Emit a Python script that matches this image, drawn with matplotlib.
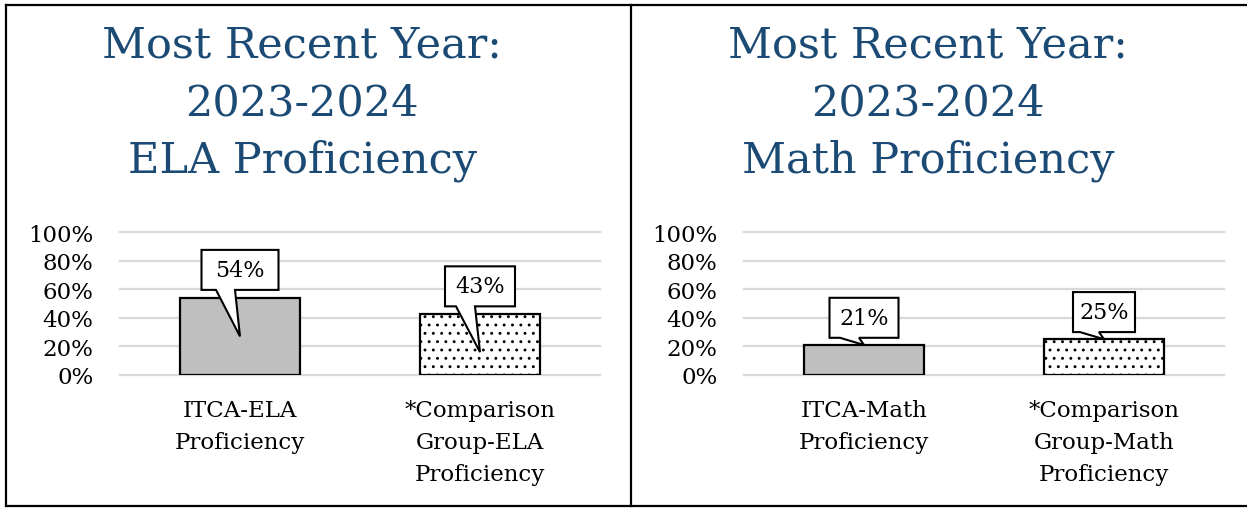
import matplotlib
matplotlib.use("Agg")
import matplotlib.pyplot as plt
from matplotlib.patches import Polygon
from matplotlib.lines import Line2D
from matplotlib.transforms import IdentityTransform

W, H = 1247, 510
DPI = 100

title_lines = ["Most Recent Year:", "2023-2024"]
subjects = ["ELA Proficiency", "Math Proficiency"]

ela_labels = ["ITCA-ELA\nProficiency", "*Comparison\nGroup-ELA\nProficiency"]
ela_values = [54, 43]
math_labels = ["ITCA-Math\nProficiency", "*Comparison\nGroup-Math\nProficiency"]
math_values = [21, 25]
y_ticks = [0, 20, 40, 60, 80, 100]

# callouts: where the box sits and where its pointer ends (in %)
ela_box_at = [73.5, 62]
ela_tip_at = [27, 16]
math_box_at = [40, 44]
math_tip_at = [21, 25]

TITLE_BLUE = "#1b4a74"
FONT = "DejaVu Serif"
plt.rcParams["font.family"] = FONT
plt.rcParams["hatch.linewidth"] = 0.9


def fx(px):
    return px / W


def fy(py):
    # pixel from top -> figure fraction
    return 1 - py / H


def callout(ax, x, box_val, tip_val, text, box_w):
    cx, cy = ax.transData.transform((x, box_val))
    tx, ty = ax.transData.transform((x, tip_val))
    h = 40
    l, r = cx - box_w / 2, cx + box_w / 2
    t, b = cy + h / 2, cy - h / 2
    verts = [(l, t), (r, t), (r, b), (cx - 5, b), (tx, ty), (cx - 24, b), (l, b)]
    poly = Polygon(verts, closed=True, transform=IdentityTransform(),
                   facecolor="white", edgecolor="black", lw=1.5, zorder=5)
    ax.add_artist(poly)
    ax.text(cx, cy, text, transform=IdentityTransform(), ha="center",
            va="center", fontsize=16, zorder=6)


def panel(left_px, title_cx, subject, labels, values, box_at, tip_at, box_ws):
    ax = fig.add_axes([fx(left_px), fy(376), fx(480), 143 / H])
    ax.set_xlim(-0.5, 1.5)
    ax.set_ylim(0, 100)
    ax.set_yticks(y_ticks, [f"{v}%" for v in y_ticks], fontsize=16.5)
    ax.set_xticks(range(len(labels)), labels, fontsize=16.5, linespacing=1.6)
    ax.tick_params(length=0)
    ax.tick_params(axis="y", pad=19)
    ax.tick_params(axis="x", pad=17)
    for s in ax.spines.values():
        s.set_visible(False)
    ax.set_axisbelow(True)
    ax.grid(axis="y", color="#d9d9d9", lw=1.6)
    for gl in ax.get_ygridlines():
        gl.set_clip_on(False)
    ax.bar(0, values[0], width=0.5, color="#bfbfbf", edgecolor="black", lw=1.6, zorder=3)
    ax.bar(1, values[1], width=0.5, color="white", edgecolor="black", lw=1.6,
           hatch="..", zorder=3)
    for i, v in enumerate(values):
        callout(ax, i, box_at[i], tip_at[i], f"{v}%", box_ws[i])
    lines = title_lines + [subject]
    for k, line in enumerate(lines):
        fig.text(fx(title_cx), fy(57 + 58 * k), line, ha="center", va="baseline",
                 fontsize=31, color=TITLE_BLUE)
    return ax


fig = plt.figure(figsize=(W / DPI, H / DPI), dpi=DPI)

panel(120, 302, subjects[0], ela_labels, ela_values, ela_box_at, ela_tip_at, [77, 70])
panel(744, 928, subjects[1], math_labels, math_values, math_box_at, math_tip_at, [69, 62])

# frame round the two panels
for xs, ys in [([6, 6], [6, 507]), ([6, W], [6, 6]), ([6, W], [507, 507]), ([631, 631], [6, 507])]:
    fig.add_artist(Line2D([fx(x) for x in xs], [fy(y) for y in ys], color="black", lw=1.6))

fig.savefig("out.png", dpi=DPI)
